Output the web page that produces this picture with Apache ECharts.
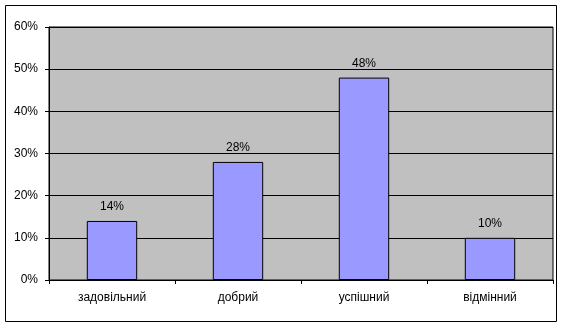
<!DOCTYPE html>
<html><head><meta charset="utf-8">
<script src="https://cdn.jsdelivr.net/npm/echarts@6/dist/echarts.min.js"></script>
<style>html,body{margin:0;padding:0;background:#fff}#c{width:567px;height:327px}</style>
</head><body><div id="c"></div>
<script>
const categories = ['задовільний', 'добрий', 'успішний', 'відмінний'];
const values = [14, 28, 48, 10];
const yTicks = [0, 10, 20, 30, 40, 50, 60];

const chart = echarts.init(document.getElementById('c'), null, {renderer: 'canvas'});
const font = 'Liberation Sans, Arial, sans-serif';
chart.setOption({
  animation: false,
  graphic: [{type: 'rect', shape: {x: 5.5, y: 5.5, width: 551, height: 316}, style: {fill: 'none', stroke: '#000', lineWidth: 1}, z: -10}],
  grid: {left: 49, right: 14, top: 27, bottom: 47, show: true, backgroundColor: '#C0C0C0', borderColor: '#000', borderWidth: 1},
  xAxis: {
    type: 'category', data: categories,
    axisLine: {lineStyle: {color: '#000'}},
    axisTick: {show: true, length: 4, lineStyle: {color: '#000'}},
    axisLabel: {color: '#000', fontFamily: font, fontSize: 12, margin: 12}
  },
  yAxis: {
    type: 'value', min: yTicks[0], max: yTicks[yTicks.length - 1], interval: 10,
    axisLine: {show: true, lineStyle: {color: '#000'}},
    axisTick: {show: true, length: 4, lineStyle: {color: '#000'}},
    axisLabel: {color: '#000', fontFamily: font, fontSize: 12, margin: 11, formatter: v => v + '%'},
    splitLine: {show: true, lineStyle: {color: '#000', width: 1}}
  },
  series: [{
    type: 'bar', data: values, barCategoryGap: '60%',
    itemStyle: {color: '#9999FF', borderColor: '#000', borderWidth: 1},
    label: {show: true, position: 'top', distance: 8, color: '#000', fontFamily: font, fontSize: 12, formatter: p => p.value + '%'}
  }]
});
</script></body></html>
